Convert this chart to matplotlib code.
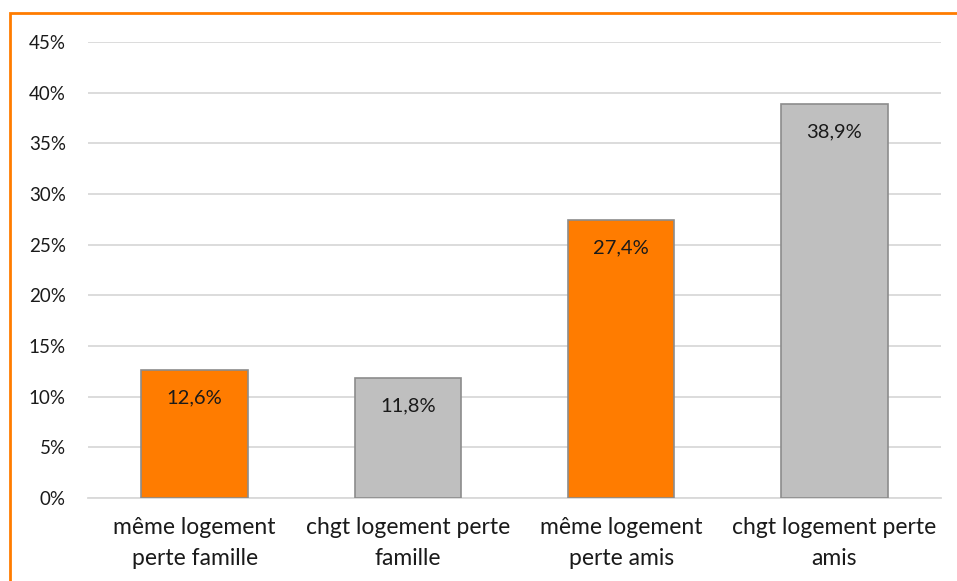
import matplotlib.pyplot as plt
import matplotlib.patches as patches

categories = ["même logement\nperte famille", "chgt logement perte\nfamille",
              "même logement\nperte amis", "chgt logement perte\namis"]
values = [12.6, 11.8, 27.4, 38.9]
labels = ["12,6%", "11,8%", "27,4%", "38,9%"]
colors = ["#FF7C00", "#BFBFBF", "#FF7C00", "#BFBFBF"]
yticks = [0, 5, 10, 15, 20, 25, 30, 35, 40, 45]

plt.rcParams['font.family'] = ['Lato', 'DejaVu Sans']

fig = plt.figure(figsize=(9.57, 5.81), dpi=100)
W, H = 957, 581
ax = fig.add_axes([88 / W, 1 - 498 / H, (941 - 88) / W, (498 - 42) / H])

x = range(len(values))
ax.bar(x, values, width=0.5, color=colors, edgecolor="#8C8C8C", linewidth=1.2, zorder=3)
for i, v in enumerate(values):
    ax.annotate(labels[i], (i, v), xytext=(0, -20), textcoords="offset points",
                ha="center", va="center", fontsize=14.5, color="#1a1a1a", zorder=4)

ax.set_xlim(-0.5, 3.5)
ax.set_ylim(0, 45)
ax.set_yticks(yticks)
ax.set_yticklabels([f"{t}%" for t in yticks], fontsize=13.5, color="#1a1a1a")
ax.set_xticks(list(x))
ax.set_xticklabels(categories, fontsize=16.5, color="#1a1a1a", linespacing=1.55)
ax.tick_params(axis="both", length=0)
ax.tick_params(axis="y", pad=16)
ax.tick_params(axis="x", pad=14)
ax.grid(axis="y", color="#D9D9D9", linewidth=1.3, zorder=0)
for s in ["top", "right", "left"]:
    ax.spines[s].set_visible(False)
ax.spines["bottom"].set_color("#D9D9D9")
ax.spines["bottom"].set_linewidth(1.3)

# orange frame, cut off at the right and bottom
fig.patches.append(patches.Rectangle((9.5 / W, -0.1), 1.2, 1 - 13 / H + 0.1,
                                     transform=fig.transFigure, fill=False,
                                     edgecolor="#FF7C00", linewidth=2, clip_on=False))
# title mostly cut off above the image
fig.text(95 / W, 1 + 4 / H, "Changement de logement", fontsize=17, fontweight="bold",
         color="#FF7C00", ha="left", va="baseline")

fig.savefig("out.png", dpi=100)
